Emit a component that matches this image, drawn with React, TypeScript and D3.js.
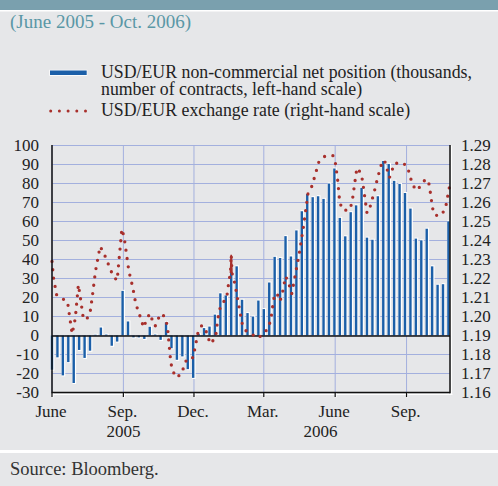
import React, { useEffect } from "react";
import * as d3 from "d3";

// ---------- DATA ----------
const barStartDate = "2005-06-01"; // weekly observations
const netPosition = [
  -18, -11.5, -21, -14, -25, -7.6, -11.8, -8, 0.4, 4.2, 0.5, -5.4, -3.2, 23.5, 7.4, -1, -1, -1.8,
  4.6, 0.5, -2.3, 6.9, -6.7, -12.8, -11, -17.7, -22.3, 0.8, 3.9, 4.7, 11, 22.2, 21.1, 33, 36.4,
  18.8, 11.8, 10, 18.4, 13.9, 27.9, 41.4, 40.8, 52.3, 41.6, 55.3, 65.4, 74.5, 72.8, 73.3, 71.9,
  80, 87.9, 61.9, 52.2, 64.9, 68.5, 77.7, 51.5, 50.4, 73.3, 91.9, 90.3, 81.4, 79.8, 75, 66.8,
  51, 50.1, 56.2, 36.4, 26.7, 27, 60.1,
];

const rateDates = [
  "2005-06-01", "2005-06-03", "2005-06-07", "2005-06-15", "2005-06-21", "2005-06-24", "2005-06-27",
  "2005-07-01", "2005-07-05", "2005-07-08", "2005-07-11", "2005-07-15", "2005-07-20", "2005-07-23",
  "2005-07-27", "2005-07-31", "2005-08-02", "2005-08-07", "2005-08-15", "2005-08-19", "2005-08-24",
  "2005-08-26", "2005-08-28", "2005-08-30", "2005-09-02", "2005-09-05", "2005-09-08", "2005-09-13",
  "2005-09-17", "2005-09-24", "2005-09-27", "2005-10-01", "2005-10-05", "2005-10-09", "2005-10-12",
  "2005-10-16", "2005-10-21", "2005-10-26", "2005-10-28", "2005-10-29", "2005-11-01", "2005-11-03",
  "2005-11-08", "2005-11-15", "2005-11-18", "2005-11-22", "2005-11-30", "2005-12-02", "2005-12-04",
  "2005-12-06", "2005-12-11", "2005-12-16", "2005-12-22", "2005-12-29", "2005-12-30", "2006-01-02",
  "2006-01-05", "2006-01-12", "2006-01-15", "2006-01-17", "2006-01-18", "2006-01-19", "2006-01-22",
  "2006-01-26", "2006-01-30", "2006-02-01", "2006-02-06", "2006-02-13", "2006-02-21", "2006-03-01",
  "2006-03-07", "2006-03-10", "2006-03-13", "2006-03-15", "2006-03-18", "2006-03-22", "2006-03-25",
  "2006-03-29", "2006-04-01", "2006-04-06", "2006-04-12", "2006-04-16", "2006-04-21", "2006-04-24",
  "2006-04-27", "2006-05-02", "2006-05-05", "2006-05-11", "2006-05-18", "2006-05-29", "2006-06-01",
  "2006-06-04", "2006-06-06", "2006-06-07", "2006-06-12", "2006-06-20", "2006-06-23", "2006-06-26",
  "2006-06-29", "2006-07-03", "2006-07-06", "2006-07-09", "2006-07-12", "2006-07-15", "2006-07-21",
  "2006-07-26", "2006-08-01", "2006-08-04", "2006-08-07", "2006-08-10", "2006-08-13", "2006-08-16",
  "2006-08-26", "2006-09-02", "2006-09-05", "2006-09-08", "2006-09-13", "2006-09-19", "2006-09-25",
  "2006-09-29", "2006-10-01", "2006-10-04", "2006-10-06", "2006-10-10", "2006-10-15", "2006-10-21",
  "2006-10-25", "2006-10-27",
];
const rateValues = [
  1.229, 1.2202, 1.2114, 1.2092, 1.2079, 1.1991, 1.1909,
  1.199, 1.2167, 1.2088, 1.2, 1.1981, 1.2018, 1.2106,
  1.2237, 1.2325, 1.2369, 1.2332, 1.2251, 1.2211, 1.219,
  1.2281, 1.2369, 1.2461, 1.2417, 1.2329, 1.2241, 1.2155,
  1.2067, 1.1983, 1.1942, 1.1983, 1.2016, 1.1974, 1.1949,
  1.199, 1.2016, 1.1983, 1.1939, 1.1895, 1.1763, 1.1719,
  1.1679, 1.1698, 1.1737, 1.1779, 1.1784, 1.1828, 1.187,
  1.1912, 1.1953, 1.193, 1.1856, 1.189, 1.1933, 1.2021,
  1.2063, 1.2095, 1.2185, 1.2229, 1.2325, 1.2229, 1.2185,
  1.2099, 1.2009, 1.1965, 1.1925, 1.1909, 1.1886, 1.1909,
  1.1942, 1.1983, 1.207, 1.2116, 1.2121, 1.2081, 1.2123,
  1.2211, 1.219, 1.212, 1.225, 1.2338, 1.2469, 1.2559,
  1.2647, 1.2686, 1.2728, 1.2814, 1.2842, 1.2847, 1.2816,
  1.2726, 1.264, 1.2596, 1.2557, 1.2564, 1.2607, 1.2696,
  1.2782, 1.2761, 1.2721, 1.2633, 1.2545, 1.2563, 1.265,
  1.2735, 1.2821, 1.2817, 1.2773, 1.2731, 1.2765, 1.2805,
  1.281, 1.2791, 1.2747, 1.2703, 1.2664, 1.2685, 1.2721,
  1.2717, 1.2672, 1.2585, 1.254, 1.2532, 1.2531, 1.2566,
  1.2654, 1.2698,
];
// short-lived spike in the rate series, drawn solid in the reference
const spikeDates = ["2006-01-17", "2006-01-18", "2006-01-19"];

const leftTicks = [100, 90, 80, 70, 60, 50, 40, 30, 20, 10, 0, -10, -20, -30];
const rightTicks = [1.29, 1.28, 1.27, 1.26, 1.25, 1.24, 1.23, 1.22, 1.21, 1.2, 1.19, 1.18, 1.17, 1.16];
const monthTickDates = ["2005-06-01", "2005-09-01", "2005-12-01", "2006-03-01", "2006-06-01", "2006-09-01"];
const monthTickLabels = ["June", "Sep.", "Dec.", "Mar.", "June", "Sep."];
const yearLabelDates = ["2005-09-01", "2006-05-13"];
const yearLabels = ["2005", "2006"];

const subtitle = "(June 2005 - Oct. 2006)";
const legendBars = ["USD/EUR non-commercial net position (thousands,", "number of contracts, left-hand scale)"];
const legendRate = "USD/EUR exchange rate (right-hand scale)";
const sourceText = "Source: Bloomberg.";

// ---------- CHART ----------
const W = 498;
const H = 486;
const FONT = "'Liberation Serif', 'Times New Roman', serif";
const BG = "#e6e7e9";
const BLUE = "#1b5fa8";
const RED = "#a8302c";
const GRID = "#a3b0de";

const parse = d3.timeParse("%Y-%m-%d");

export default function App() {
  useEffect(() => {
    document.body.style.margin = "0";
  }, []);

  const left = 52;
  const right = 450;
  const top = 145.5;
  const bottom = 392.5;

  const x = d3
    .scaleTime()
    .domain([parse("2005-06-01")!, parse("2006-10-27")!])
    .range([left, right]);
  const yL = d3.scaleLinear().domain([-30, 100]).range([bottom, top]);
  const yR = d3.scaleLinear().domain([1.16, 1.29]).range([bottom, top]);

  const start = parse(barStartDate)!;
  const bars = netPosition.map((v, i) => ({ date: d3.timeDay.offset(start, 7 * i), v }));
  const rate = rateDates.map((d, i) => ({ date: parse(d)!, v: rateValues[i] }));
  const spike = rate.filter((r) => spikeDates.includes(d3.timeFormat("%Y-%m-%d")(r.date)));

  const line = d3
    .line<{ date: Date; v: number }>()
    .x((d) => x(d.date))
    .y((d) => yR(d.v));

  const y0 = yL(0);
  const bw = 2.4;

  return (
    <svg
      width={W}
      height={H}
      viewBox={`0 0 ${W} ${H}`}
      style={{ display: "block", position: "absolute", left: 0, top: 0, background: BG }}
      fontFamily={FONT}
    >
      <rect x={0} y={0} width={W} height={H} fill={BG} />
      {/* header band */}
      <rect x={0} y={0} width={W} height={10} fill="#7aa0ae" />
      <rect x={0} y={10} width={W} height={1.5} fill="#ffffff" />
      <text x={10} y={28} fontSize={19} fill="#5a97a6">
        {subtitle}
      </text>

      {/* legend */}
      <rect x={49.3} y={69.8} width={38} height={6} fill="#ffffff" />
      <rect x={50} y={70.5} width={36.7} height={4.5} fill={BLUE} />
      <text x={101} y={78} fontSize={17.8} fill="#222">
        {legendBars[0]}
      </text>
      <text x={101} y={95} fontSize={17.8} fill="#222">
        {legendBars[1]}
      </text>
      <line
        x1={50.7}
        x2={87}
        y1={111}
        y2={111}
        stroke={RED}
        strokeWidth={3}
        strokeLinecap="round"
        strokeDasharray="0 8.7"
      />
      <text x={101} y={116} fontSize={17.8} fill="#222">
        {legendRate}
      </text>

      {/* grid */}
      {leftTicks.map((t) => (
        <line key={"h" + t} x1={left} x2={right} y1={yL(t)} y2={yL(t)} stroke={GRID} strokeWidth={1} />
      ))}
      {monthTickDates.map((d) => (
        <line
          key={"v" + d}
          x1={x(parse(d)!)}
          x2={x(parse(d)!)}
          y1={top}
          y2={bottom}
          stroke={GRID}
          strokeWidth={1}
        />
      ))}

      {/* bars */}
      {bars.map((b, i) => {
        const cx = x(b.date);
        const yv = yL(b.v);
        const y1 = Math.min(yv, y0);
        const h = Math.abs(yv - y0);
        const pos = b.v >= 0;
        return (
          <g key={"b" + i}>
            <rect
              x={cx - bw / 2}
              y={pos ? y1 - 1 : y1}
              width={bw + 1.2}
              height={h + 1}
              fill="#ffffff"
            />
            <rect x={cx - bw / 2} y={y1} width={bw} height={h} fill={BLUE} />
          </g>
        );
      })}

      {/* zero line */}
      <line x1={left} x2={right} y1={y0 + 0.5} y2={y0 + 0.5} stroke="#111" strokeWidth={1.5} />

      {/* exchange rate */}
      <path
        d={line(rate) || ""}
        fill="none"
        stroke={RED}
        strokeWidth={3.3}
        strokeLinecap="round"
        strokeLinejoin="round"
        strokeDasharray="0 8.4"
      />
      <path d={line(spike) || ""} fill={RED} stroke={RED} strokeWidth={1.6} strokeLinejoin="miter" />

      {/* frame */}
      <line x1={left + 1.5} x2={right + 2.5} y1={bottom + 2} y2={bottom + 2} stroke="#ffffff" strokeWidth={1.2} />
      <line x1={right + 1.5} x2={right + 1.5} y1={top} y2={bottom + 2} stroke="#ffffff" strokeWidth={1.2} />
      <line x1={left} x2={left} y1={top - 0.5} y2={bottom + 0.7} stroke="#111" strokeWidth={1.5} />
      <line x1={right} x2={right} y1={top - 0.5} y2={bottom + 0.7} stroke="#111" strokeWidth={1.5} />
      <line x1={left} x2={right} y1={bottom} y2={bottom} stroke="#111" strokeWidth={1.5} />
      {monthTickDates.map((d) => {
        const tx = x(parse(d)!);
        return (
          <g key={"t" + d}>
            <line x1={tx + 1} x2={tx + 1} y1={bottom + 1} y2={bottom + 5} stroke="#ffffff" strokeWidth={1} />
            <line x1={tx} x2={tx} y1={bottom} y2={bottom + 4.5} stroke="#111" strokeWidth={1.2} />
          </g>
        );
      })}

      {/* left axis labels */}
      {leftTicks.map((t) => (
        <text key={"l" + t} x={39} y={yL(t)} dy="0.33em" textAnchor="end" fontSize={17} fill="#222">
          {t < 0 ? "-" + Math.abs(t) : t}
        </text>
      ))}
      {/* right axis labels */}
      {rightTicks.map((t) => (
        <text key={"r" + t} x={461} y={yR(t)} dy="0.33em" textAnchor="start" fontSize={17} fill="#222">
          {t.toFixed(2)}
        </text>
      ))}
      {/* x labels */}
      {monthTickDates.map((d, i) => (
        <text key={"m" + d} x={x(parse(d)!) - 1} y={417} textAnchor="middle" fontSize={17} fill="#222">
          {monthTickLabels[i]}
        </text>
      ))}
      {yearLabelDates.map((d, i) => (
        <text key={"y" + d} x={x(parse(d)!)} y={437} textAnchor="middle" fontSize={17} fill="#222">
          {yearLabels[i]}
        </text>
      ))}

      {/* footer */}
      <rect x={0} y={450} width={W} height={3} fill="#ffffff" />
      <text x={10} y={475} fontSize={18.5} fill="#333">
        {sourceText}
      </text>
    </svg>
  );
}
